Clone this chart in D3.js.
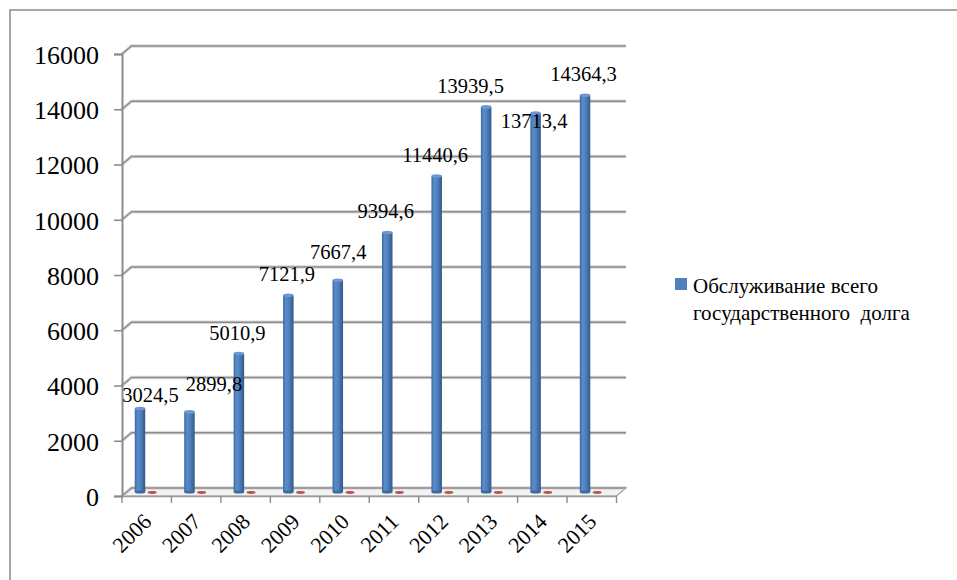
<!DOCTYPE html>
<html>
<head>
<meta charset="utf-8">
<script src="https://cdn.jsdelivr.net/npm/d3@7"></script>
<style>
  html, body { margin: 0; padding: 0; background: #fff; }
  svg { display: block; }
</style>
</head>
<body>
<svg id="chart" width="957" height="580"></svg>
<script>
// ---- data ----
const years = ["2006","2007","2008","2009","2010","2011","2012","2013","2014","2015"];
const debtService = [3024.5, 2899.8, 5010.9, 7121.9, 7667.4, 9394.6, 11440.6, 13939.5, 13713.4, 14364.3];
const hiddenSeries = [0, 0, 0, 0, 0, 0, 0, 0, 0, 0];
const valueLabels = ["3024,5","2899,8","5010,9","7121,9","7667,4","9394,6","11440,6","13939,5","13713,4","14364,3"];
const yTicks = [0, 2000, 4000, 6000, 8000, 10000, 12000, 14000, 16000];
const legendLines = ["Обслуживание всего", "государственного  долга"];

// label placement nudges (layout, px) relative to default position above bar
const labelNudge = [[12, 8], [26, -7], [0, 0], [0, 0], [2, -7], [0, 0], [0, 0], [-14, 0], [0, 29], [0, 0]];

const SERIF = "'Liberation Serif'";

// ---- layout ----
const svg = d3.select("#chart");
const x0 = 122, x1 = 616.5, yBase = 496, yTop = 54;
const depthX = 9.5, depthY = -8;

const x = d3.scaleBand().domain(years).range([x0, x1]).padding(0);
const y = d3.scaleLinear().domain([0, 16000]).range([yBase, yTop]);
const bw = x.bandwidth();

// outer frame
svg.append("rect").attr("x", 10).attr("y", 10).attr("width", 980).attr("height", 620)
  .attr("fill", "none").attr("stroke", "#8a8a8a").attr("stroke-width", 1.5);

// defs
const defs = svg.append("defs");
const g1 = defs.append("linearGradient").attr("id", "cyl").attr("x1", "0").attr("x2", "1").attr("y1", "0").attr("y2", "0");
[["0%", "#3a669c"], ["25%", "#5a8ccb"], ["55%", "#4f81bd"], ["100%", "#33598a"]]
  .forEach(([o, c]) => g1.append("stop").attr("offset", o).attr("stop-color", c));

// floor
svg.append("path")
  .attr("d", `M${x0},${yBase} L${x1},${yBase} L${x1 + depthX},${yBase + depthY} L${x0 + depthX},${yBase + depthY} Z`)
  .attr("fill", "#f2f2f2").attr("stroke", "#9a9a9a").attr("stroke-width", 1.2);

// gridlines on back wall + side wall diagonal
const grid = svg.append("g");
yTicks.forEach(t => {
  const yy = y(t);
  const d = `M${x0},${yy} L${x0 + depthX},${yy + depthY} L${x1 + depthX},${yy + depthY}`;
  grid.append("path").attr("d", d).attr("fill", "none").attr("stroke", "#d9d9d9").attr("stroke-width", 3.4);
  grid.append("path").attr("d", d).attr("fill", "none").attr("stroke", "#8c8c8c").attr("stroke-width", 1.4);
});

// y axis
const yAxis = d3.axisLeft(y).tickValues(yTicks).tickSize(8).tickPadding(15).tickFormat(d3.format("d"));
const ya = svg.append("g").attr("transform", `translate(${x0},0)`).call(yAxis)
  .attr("font-family", null).attr("font-size", null);
ya.select(".domain").attr("stroke", "#8c8c8c").attr("stroke-width", 2);
ya.selectAll(".tick line").attr("stroke", "#8c8c8c").attr("stroke-width", 1.6);
ya.selectAll(".tick text").attr("font-size", 26).style("font-family", SERIF).attr("fill", "#000").attr("dy", "0.36em");

// x axis
const xAxis = d3.axisBottom(x).tickSize(7).tickSizeOuter(0).tickFormat(d => d);
const xa = svg.append("g").attr("transform", `translate(0,${yBase})`).call(xAxis)
  .attr("font-family", null).attr("font-size", null);
xa.select(".domain").attr("stroke", "#9a9a9a").attr("stroke-width", 1.4);
xa.selectAll(".tick line").remove();
const bounds = years.map(c => x(c)).concat([x1]);
xa.selectAll("line.bt").data(bounds).join("line").attr("class", "bt")
  .attr("x1", d => d).attr("x2", d => d).attr("y1", 0).attr("y2", 7)
  .attr("stroke", "#8c8c8c").attr("stroke-width", 1.4);
xa.selectAll(".tick text")
  .attr("font-size", 22).style("font-family", SERIF).attr("fill", "#000")
  .attr("text-anchor", "end").attr("dy", 0).attr("y", 0)
  .attr("transform", `translate(6,27) rotate(-45)`);

// bars
const barW = 10.5;
const midY = -4;
const bars = svg.append("g");
years.forEach((c, i) => {
  const cx = x(c) + bw * 0.364;
  const bx = cx - barW / 2;
  const top = y(debtService[i]) + midY;
  const bot = yBase + midY;
  const rx = x(c) + bw * 0.61;
  const rTop = y(hiddenSeries[i]) + midY;
  bars.append("ellipse").attr("cx", rx).attr("cy", rTop + 0.5).attr("rx", 4.5).attr("ry", 1.4)
    .attr("fill", "#c0504d");
  bars.append("rect").attr("x", bx).attr("y", top).attr("width", barW).attr("height", bot - top)
    .attr("fill", "url(#cyl)");
  bars.append("ellipse").attr("cx", cx).attr("cy", bot).attr("rx", barW / 2).attr("ry", 1.6).attr("fill", "#3d6aa2");
  bars.append("ellipse").attr("cx", cx).attr("cy", top).attr("rx", barW / 2).attr("ry", 1.8).attr("fill", "#6b98d2");
});

// value labels
const labels = svg.append("g");
years.forEach((c, i) => {
  const cx = x(c) + bw * 0.364;
  const top = y(debtService[i]) + midY;
  labels.append("text")
    .attr("x", cx - 1.5 + labelNudge[i][0])
    .attr("y", top - 14 + labelNudge[i][1])
    .attr("text-anchor", "middle")
    .attr("font-size", 20.5)
    .style("font-family", SERIF)
    .attr("fill", "#000")
    .text(valueLabels[i]);
});

// legend
const lg = svg.append("g");
lg.append("rect").attr("x", 675).attr("y", 278).attr("width", 12).attr("height", 12).attr("fill", "#4f81bd");
legendLines.forEach((t, i) => {
  lg.append("text").attr("x", 693).attr("y", 293 + i * 27).attr("font-size", 21)
    .style("font-family", SERIF).attr("fill", "#000")
    .style("white-space", "pre").text(t);
});
</script>
</body>
</html>
